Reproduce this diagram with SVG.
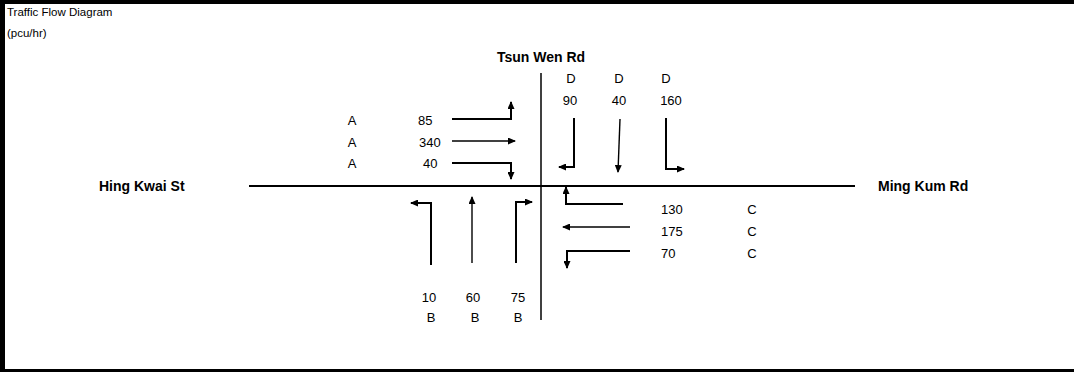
<svg xmlns="http://www.w3.org/2000/svg" width="1074" height="372" viewBox="0 0 1074 372">
<style>
text{font-family:"Liberation Sans",Arial,sans-serif;fill:#000}
.t{font-size:11.5px}
.l{font-size:13px}
.r{font-size:14px;font-weight:bold}
.m{text-anchor:middle}
.road{stroke:#000;fill:none}
.arr{stroke:#000;fill:none;stroke-width:2;marker-end:url(#ah)}
.thin{stroke-width:1.4}
</style>
<defs>
<marker id="ah" markerUnits="userSpaceOnUse" markerWidth="8" markerHeight="7" refX="7" refY="3.5" orient="auto">
<path d="M0,0 L8,3.5 L0,7 z" fill="#000"/>
</marker>
</defs>
<rect x="0" y="0" width="1074" height="372" fill="#fff"/>
<g id="frame">
<rect x="0" y="0" width="1074" height="4" fill="#000"/>
<rect x="0" y="0" width="5" height="372" fill="#000"/>
<rect x="0" y="369" width="1074" height="3" fill="#000"/>
</g>
<g id="title">
<text class="t" x="7" y="16">Traffic Flow Diagram</text>
<text class="t" x="7" y="37">(pcu/hr)</text>
</g>
<g id="roads">
<line class="road" x1="541" y1="73" x2="541" y2="320" stroke-width="1.5"/>
<line class="road" x1="249" y1="186" x2="855" y2="186" stroke-width="2"/>
<text class="r m" x="541" y="62">Tsun Wen Rd</text>
<text class="r" x="99" y="191">Hing Kwai St</text>
<text class="r" x="878" y="191">Ming Kum Rd</text>
</g>
<g id="approachA">
<text class="l m" x="352" y="125">A</text>
<text class="l m" x="352" y="147">A</text>
<text class="l m" x="352" y="168">A</text>
<text class="l" x="418" y="125">85</text>
<text class="l" x="419" y="147">340</text>
<text class="l" x="423" y="168">40</text>
</g>
<g id="approachD">
<text class="l m" x="571" y="83">D</text>
<text class="l m" x="619" y="83">D</text>
<text class="l m" x="666" y="83">D</text>
<text class="l m" x="570" y="105">90</text>
<text class="l m" x="619" y="105">40</text>
<text class="l m" x="671" y="105">160</text>
</g>
<g id="approachB">
<text class="l m" x="429" y="302">10</text>
<text class="l m" x="473" y="302">60</text>
<text class="l m" x="518" y="302">75</text>
<text class="l m" x="431" y="322">B</text>
<text class="l m" x="475" y="322">B</text>
<text class="l m" x="518" y="322">B</text>
</g>
<g id="approachC">
<text class="l" x="661" y="214">130</text>
<text class="l" x="661" y="236">175</text>
<text class="l" x="661" y="258">70</text>
<text class="l m" x="752" y="214">C</text>
<text class="l m" x="752" y="236">C</text>
<text class="l m" x="752" y="258">C</text>
</g>
<g id="connectors">
<path class="arr" d="M452,119 H511 V102"/>
<path class="arr thin" d="M452,141 H515"/>
<path class="arr" d="M452,163 H511 V179"/>
<path class="arr" d="M574,118 V167 H559"/>
<path class="arr thin" d="M620,119 L618,172"/>
<path class="arr" d="M666,118 V169 H684"/>
<path class="arr" d="M431,265 V203 H411"/>
<path class="arr thin" d="M472,263 V197"/>
<path class="arr" d="M516,263 V202 H532"/>
<path class="arr" d="M623,204 H566 V187"/>
<path class="arr thin" d="M630,227 H563"/>
<path class="arr" d="M630,251 H567 V268"/>
</g>
</svg>
